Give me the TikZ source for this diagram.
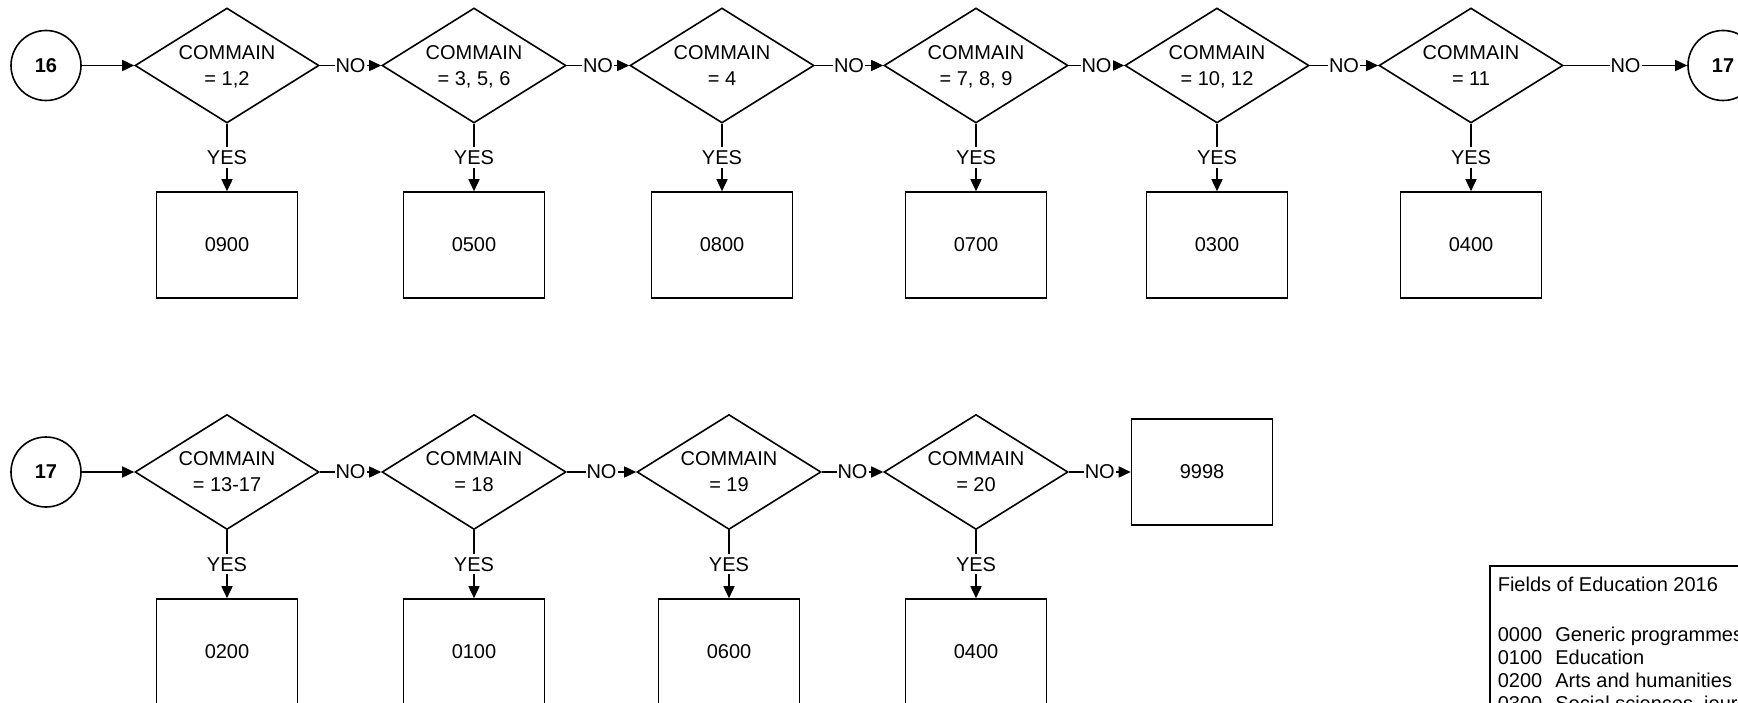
\documentclass[tikz,border=0pt]{standalone}
\usepackage{fontspec}
\setmainfont{Liberation Sans}
\usetikzlibrary{arrows.meta,shapes.geometric}

\begin{document}
\begin{tikzpicture}[x=1pt, y=-1pt, line width=1.6pt,
        font=\fontsize{20pt}{26pt}\selectfont,
        >={Triangle[length=12pt,width=11pt]},
        joinpoint/.style={circle, draw, minimum size=70pt, inner sep=0pt, font=\fontsize{20pt}{26pt}\selectfont\bfseries},
        testbox/.style={diamond, draw, aspect=1.6, inner sep=0pt, minimum width=184pt, minimum height=115pt, align=center, text depth=0pt},
        codebox/.style={rectangle, draw, minimum width=141pt, minimum height=106pt, inner sep=0pt},
        answerlabel/.style={fill=white, inner xsep=1pt, inner ysep=3pt}]
        \useasboundingbox (0,0) rectangle (1738,703);
        \clip (0,0) rectangle (1738,703);
        \node[joinpoint] (conn16) at (46,65.5) {16};
        \node[testbox] (test1) at (227,65.5) {COMMAIN\\= 1,2};
        \node[testbox] (test2) at (474,65.5) {COMMAIN\\= 3, 5, 6};
        \node[testbox] (test3) at (722,65.5) {COMMAIN\\= 4};
        \node[testbox] (test4) at (976,65.5) {COMMAIN\\= 7, 8, 9};
        \node[testbox] (test5) at (1217,65.5) {COMMAIN\\= 10, 12};
        \node[testbox] (test6) at (1471,65.5) {COMMAIN\\= 11};
        \node[joinpoint] (conn17out) at (1723,65.5) {17};
        \node[codebox] (out1) at (227,245) {0900};
        \node[codebox] (out2) at (474,245) {0500};
        \node[codebox] (out3) at (722,245) {0800};
        \node[codebox] (out4) at (976,245) {0700};
        \node[codebox] (out5) at (1217,245) {0300};
        \node[codebox] (out6) at (1471,245) {0400};
        \draw[->] (conn16) -- (test1);
        \draw[->] (test1) -- node[answerlabel] {NO} (test2);
        \draw[->] (test2) -- node[answerlabel] {NO} (test3);
        \draw[->] (test3) -- node[answerlabel] {NO} (test4);
        \draw[->] (test4) -- node[answerlabel] {NO} (test5);
        \draw[->] (test5) -- node[answerlabel] {NO} (test6);
        \draw[->] (test6) -- node[answerlabel] {NO} (conn17out);
        \draw[->] (test1) -- node[answerlabel] {YES} (out1);
        \draw[->] (test2) -- node[answerlabel] {YES} (out2);
        \draw[->] (test3) -- node[answerlabel] {YES} (out3);
        \draw[->] (test4) -- node[answerlabel] {YES} (out4);
        \draw[->] (test5) -- node[answerlabel] {YES} (out5);
        \draw[->] (test6) -- node[answerlabel] {YES} (out6);
        \node[joinpoint] (conn17) at (46,472) {17};
        \node[testbox] (test7) at (227,472) {COMMAIN\\= 13-17};
        \node[testbox] (test8) at (474,472) {COMMAIN\\= 18};
        \node[testbox] (test9) at (729,472) {COMMAIN\\= 19};
        \node[testbox] (test10) at (976,472) {COMMAIN\\= 20};
        \node[codebox] (other) at (1202,472) {9998};
        \node[codebox] (out7) at (227,652) {0200};
        \node[codebox] (out8) at (474,652) {0100};
        \node[codebox] (out9) at (729,652) {0600};
        \node[codebox] (out10) at (976,652) {0400};
        \draw[->] (conn17) -- (test7);
        \draw[->] (test7) -- node[answerlabel] {NO} (test8);
        \draw[->] (test8) -- node[answerlabel] {NO} (test9);
        \draw[->] (test9) -- node[answerlabel] {NO} (test10);
        \draw[->] (test10) -- node[answerlabel] {NO} (other);
        \draw[->] (test7) -- node[answerlabel] {YES} (out7);
        \draw[->] (test8) -- node[answerlabel] {YES} (out8);
        \draw[->] (test9) -- node[answerlabel] {YES} (out9);
        \draw[->] (test10) -- node[answerlabel] {YES} (out10);
        \draw (1490,566) rectangle (1800,800);
        \node[anchor=north west, inner sep=0pt, align=left, font=\fontsize{20pt}{23pt}\selectfont] (legend) at (1497,576.5)
            {Fields of Education 2016\\[27pt]
             0000\hspace{13pt}Generic programmes and qualifications\\
             0100\hspace{13pt}Education\\
             0200\hspace{13pt}Arts and humanities\\
             0300\hspace{13pt}Social sciences, journalism and information};
    \end{tikzpicture}
\end{document}
